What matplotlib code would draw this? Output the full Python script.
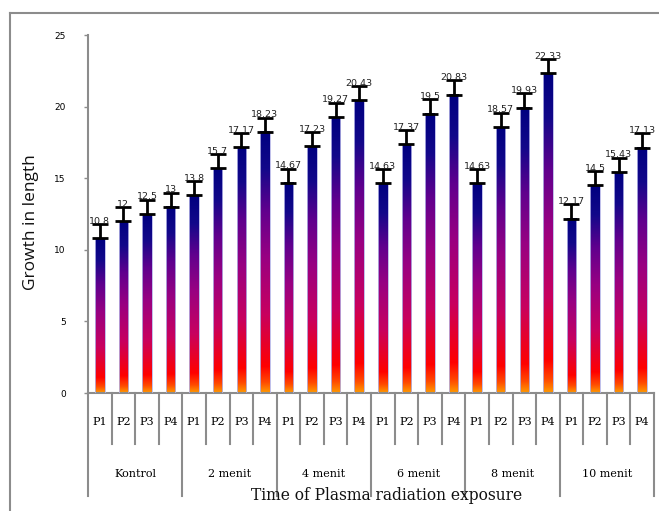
import numpy as np
import matplotlib
matplotlib.use("Agg")
import matplotlib.pyplot as plt
from matplotlib.colors import LinearSegmentedColormap
from matplotlib.lines import Line2D
import matplotlib.transforms as mtransforms

# data
groups = ["Kontrol", "2 menit", "4 menit", "6 menit", "8 menit", "10 menit"]
sub_labels = ["P1", "P2", "P3", "P4"]
kontrol = [10.8, 12, 12.5, 13]
menit2 = [13.8, 15.7, 17.17, 18.23]
menit4 = [14.67, 17.23, 19.27, 20.43]
menit6 = [14.63, 17.37, 19.5, 20.83]
menit8 = [14.63, 18.57, 19.93, 22.33]
menit10 = [12.17, 14.5, 15.43, 17.13]
err = 1.0

values = kontrol + menit2 + menit4 + menit6 + menit8 + menit10
n = len(values)
x = np.arange(n)

fire = LinearSegmentedColormap.from_list("fire", [
    (0.0, "#ff9a00"), (0.04, "#ff4a00"), (0.10, "#ff0000"),
    (0.30, "#c8005f"), (0.52, "#980082"), (0.70, "#60008e"),
    (0.86, "#12088a"), (1.0, "#000080")])

W, H = 659, 511
fig = plt.figure(figsize=(W / 100, H / 100), dpi=100)
ax = fig.add_axes([88 / W, 1 - 393 / H, (654 - 88) / W, (393 - 35) / H])

grey = "#8c8c8c"
bw = 0.4
grad = np.linspace(0, 1, 256).reshape(-1, 1)
for xi, v in zip(x, values):
    ax.imshow(grad, cmap=fire, origin="lower", aspect="auto",
              extent=[xi - bw / 2, xi + bw / 2, 0, v], zorder=2)
    ax.add_patch(plt.Rectangle((xi - bw / 2, 0), bw, v, fill=False,
                               edgecolor="#b4b4e6", lw=0.6, zorder=3))

ax.errorbar(x, values, yerr=[np.zeros(n), np.full(n, err)], fmt="none",
            ecolor="black", elinewidth=2, capsize=5.5, capthick=2, zorder=4)
for xi, v in zip(x, values):
    ax.text(xi, v + err - 0.12, f"{v:g}", ha="center", va="bottom",
            fontsize=6.8, color="#222222", zorder=5)

ax.set_xlim(-0.5, n - 0.5)
ax.set_ylim(0, 25)
ax.set_yticks(range(0, 26, 5))
ax.tick_params(axis="y", labelsize=6.5, length=3, width=1, color=grey, pad=13)
ax.set_xticks([])
for s in ["top", "right"]:
    ax.spines[s].set_visible(False)
for s in ["left", "bottom"]:
    ax.spines[s].set_color(grey)
    ax.spines[s].set_linewidth(1.5)

# multi-level category axis
fig_tr = mtransforms.blended_transform_factory(ax.transData, fig.transFigure)
y0 = 1 - 393 / H
for b in range(n + 1):
    depth = 103 if b % 4 == 0 else 51
    ax.add_line(Line2D([b - 0.5, b - 0.5], [y0, y0 - depth / H], color=grey,
                       lw=1.5, clip_on=False, transform=fig_tr))

for xi in x:
    ax.text(xi, 1 - 422 / H, sub_labels[xi % 4], ha="center", va="center",
            fontsize=8, family="DejaVu Serif", transform=fig_tr)
for gi, g in enumerate(groups):
    ax.text(gi * 4 + 1.5, 1 - 474 / H, g, ha="center", va="center",
            fontsize=8, family="DejaVu Serif", transform=fig_tr)

fig.text(387 / W, 1 - 496 / H, "Time of Plasma radiation exposure", ha="center",
         va="center", fontsize=11.2, family="DejaVu Serif", color="#111111")
fig.text(31 / W, 1 - 222 / H, "Growth in length", rotation=90, ha="center",
         va="center", fontsize=12.5, family="Open Sans", color="#111111")

# outer frame
fig.add_artist(Line2D([10 / W, 10 / W], [0, 1 - 13 / H], color=grey, lw=1.5))
fig.add_artist(Line2D([10 / W, 1], [1 - 13 / H, 1 - 13 / H], color=grey, lw=1.5))

fig.savefig("out.png", dpi=100)
